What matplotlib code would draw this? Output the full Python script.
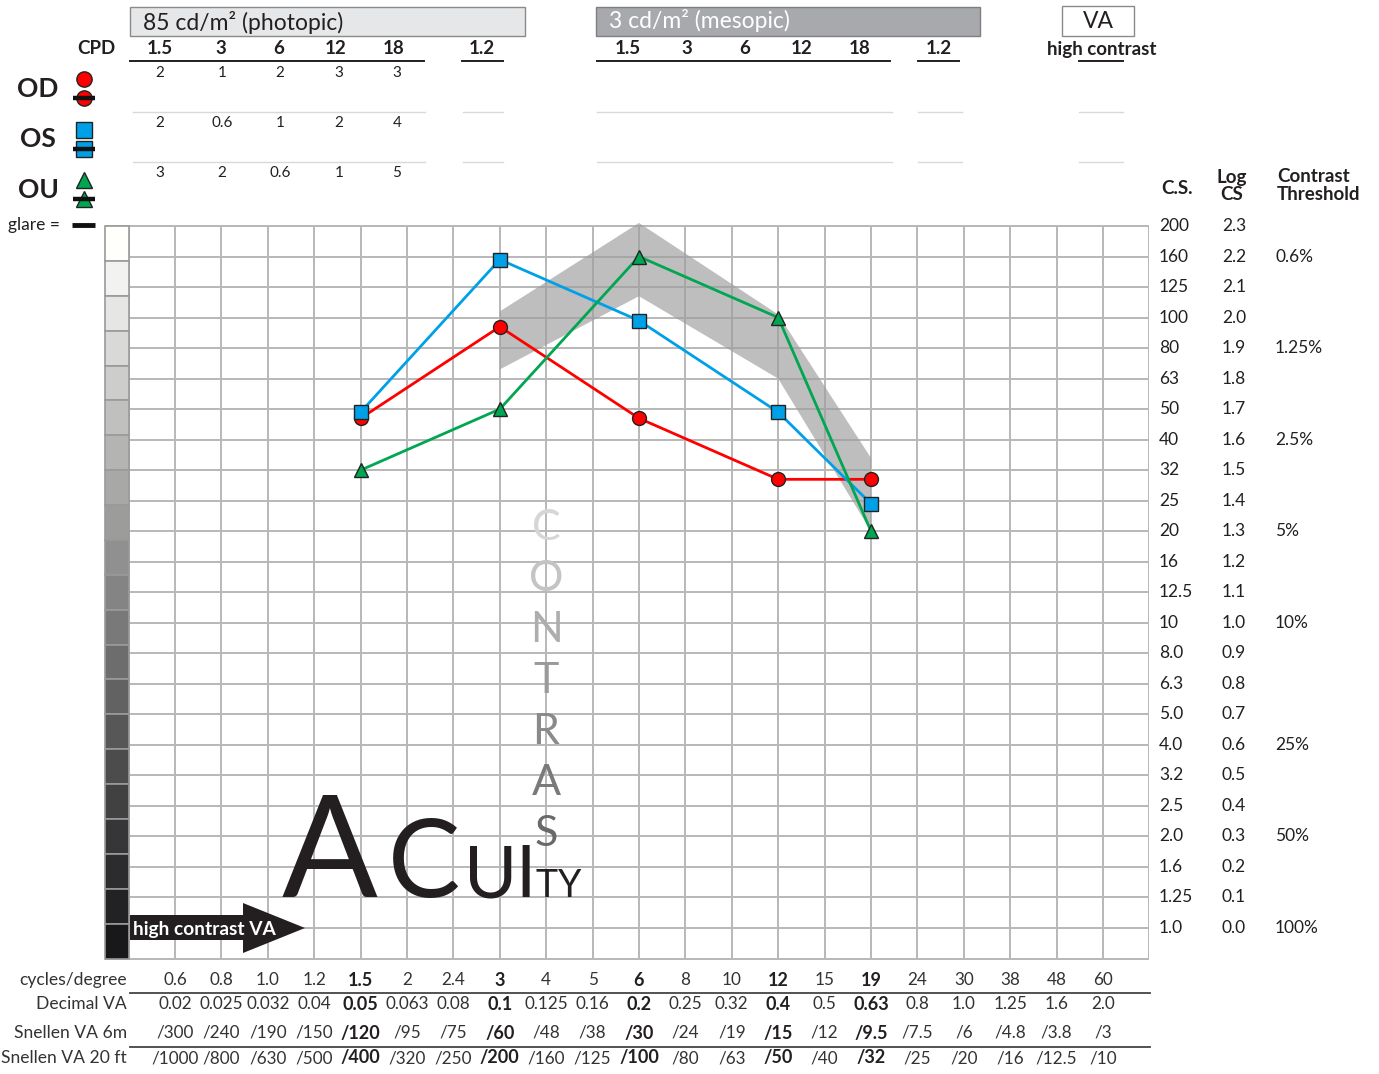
import numpy as np
import matplotlib.pyplot as plt
import matplotlib.transforms as mtransforms
from matplotlib.patches import Rectangle, Polygon

plt.rcParams['font.family'] = ['Lato', 'DejaVu Sans']

W, H = 1379, 1074
INK = '#231f20'

# Spatial frequency columns of the chart (bottom scales)
cpd_labels = ['0.6', '0.8', '1.0', '1.2', '1.5', '2', '2.4', '3', '4', '5', '6',
              '8', '10', '12', '15', '19', '24', '30', '38', '48', '60']
decimal_va = ['0.02', '0.025', '0.032', '0.04', '0.05', '0.063', '0.08', '0.1', '0.125',
              '0.16', '0.2', '0.25', '0.32', '0.4', '0.5', '0.63', '0.8', '1.0', '1.25',
              '1.6', '2.0']
snellen_6m = ['/300', '/240', '/190', '/150', '/120', '/95', '/75', '/60', '/48', '/38',
              '/30', '/24', '/19', '/15', '/12', '/9.5', '/7.5', '/6', '/4.8', '/3.8', '/3']
snellen_20ft = ['/1000', '/800', '/630', '/500', '/400', '/320', '/250', '/200', '/160',
                '/125', '/100', '/80', '/63', '/50', '/40', '/32', '/25', '/20', '/16',
                '/12.5', '/10']
bold_cols = ['1.5', '3', '6', '12', '19']

# Right scales
cs_labels = ['200', '160', '125', '100', '80', '63', '50', '40', '32', '25', '20', '16',
             '12.5', '10', '8.0', '6.3', '5.0', '4.0', '3.2', '2.5', '2.0', '1.6', '1.25', '1.0']
log_cs = [2.3, 2.2, 2.1, 2.0, 1.9, 1.8, 1.7, 1.6, 1.5, 1.4, 1.3, 1.2, 1.1, 1.0,
          0.9, 0.8, 0.7, 0.6, 0.5, 0.4, 0.3, 0.2, 0.1, 0.0]
thr_log = [2.2, 1.9, 1.6, 1.3, 1.0, 0.6, 0.3, 0.0]
thr_labels = ['0.6%', '1.25%', '2.5%', '5%', '10%', '25%', '50%', '100%']

# Measured contrast sensitivity (log CS)
tested_cpd = ['1.5', '3', '6', '12', '19']
od_log = [1.67, 1.97, 1.67, 1.47, 1.47]
os_log = [1.69, 2.19, 1.99, 1.69, 1.39]
ou_log = [1.50, 1.70, 2.20, 2.00, 1.30]

# Normal range band
norm_cpd = ['3', '6', '12', '19']
norm_hi = [2.02, 2.31, 2.01, 1.54]
norm_lo = [1.83, 2.07, 1.80, 1.30]

# Table at the top
head_photopic = ['1.5', '3', '6', '12', '18']
od_row = ['2', '1', '2', '3', '3']
os_row = ['2', '0.6', '1', '2', '4']
ou_row = ['3', '2', '0.6', '1', '5']

RED, BLUE, GREEN = '#ff0000', '#00a0e9', '#00a651'

fig = plt.figure(figsize=(W / 100, H / 100), dpi=100)

# main grid axes: x = column index, y = log CS
px0, px1, pytop, pybot = 105.4, 1149.4, 226.0, 958.5
ax = fig.add_axes([px0 / W, 1 - pybot / H, (px1 - px0) / W, (pybot - pytop) / H], zorder=1)
ax.set_xlim(-1.5, 21)
ax.set_ylim(-0.1, 2.3)
ax.axis('off')

# overlay in pixel coordinates
ax0 = fig.add_axes([0, 0, 1, 1], zorder=3)
ax0.set_xlim(0, W)
ax0.set_ylim(H, 0)
ax0.axis('off')
ax0.patch.set_visible(False)

tr_col = mtransforms.blended_transform_factory(ax.transData, ax0.transData)
tr_row = mtransforms.blended_transform_factory(ax0.transData, ax.transData)

# grid
gc = '#b8b8b8'
ax.vlines(np.arange(-1, 22), -0.1, 2.3, color=gc, lw=1.4, zorder=1)
ax.hlines(np.round(np.arange(-0.1, 2.31, 0.1), 2), -1, 21, color=gc, lw=1.4, zorder=1)
ax.hlines([-0.1, 2.3], -1.5, 21, color=gc, lw=1.4, zorder=1, clip_on=False)

# gray scale bar
ncell = 21
edges = np.linspace(2.3, -0.1, ncell + 1)
shades = np.linspace(1.0, 0.13, ncell) ** 1.15
for k in range(ncell):
    g = shades[k]
    ax.add_patch(Rectangle((-1.5, edges[k + 1]), 0.5, edges[k] - edges[k + 1],
                           fc=(g, g, g * 0.98 + 0.01), ec='#9a9a9a', lw=1.2, zorder=2,
                           clip_on=False))

# normal band
xi = [cpd_labels.index(c) for c in norm_cpd]
band = Polygon(list(zip(xi, norm_hi)) + list(zip(xi[::-1], norm_lo[::-1])),
               closed=True, fc='#9c9c9c', ec='none', alpha=0.65, zorder=3, clip_on=False)
ax.add_patch(band)

# series
tx = [cpd_labels.index(c) for c in tested_cpd]
ax.plot(tx, od_log, '-o', color=RED, lw=2, ms=10, mfc=RED, mec='#222', mew=1, zorder=5)
ax.plot(tx, os_log, '-s', color=BLUE, lw=2, ms=10, mfc=BLUE, mec='#222', mew=1, zorder=6)
ax.plot(tx, ou_log, '-^', color=GREEN, lw=2, ms=10, mfc=GREEN, mec='#222', mew=1, zorder=7)

# CONTRAST / ACUITY lettering
contrast_cols = ['#d6d6d6', '#c4c4c4', '#adadad', '#9a9a9a', '#8a8a8a', '#7a7a7a', '#696969']
for k, (ch, col) in enumerate(zip('CONTRAS', contrast_cols)):
    ax0.text(546, 540 + 51 * k, ch, fontsize=31, color=col,
             ha='center', va='baseline')
for ch, xc, fs in [('A', 330, 102), ('C', 424, 78), ('U', 491, 52), ('I', 525, 52),
                   ('T', 546, 27), ('Y', 570, 27)]:
    ax0.text(xc, 897, ch, fontsize=fs, color=INK, ha='center', va='baseline')

# arrow
arrow = Polygon([(130, 915), (243, 915), (243, 903), (305, 928), (243, 953), (243, 940), (130, 940)],
                closed=True, fc=INK, ec='none')
ax0.add_patch(arrow)
ax0.text(133, 929, 'high contrast VA', color='white', fontsize=13.8, fontweight='bold',
         ha='left', va='center')

# header boxes
ax0.add_patch(Rectangle((130, 7), 395, 29, fc='#e6e7e8', ec='#8a8a8a', lw=1))
ax0.text(143, 22, '85 cd/m² (photopic)', fontsize=16.5, color=INK, va='center')
ax0.add_patch(Rectangle((596, 7), 384, 29, fc='#a7a9ac', ec='#7d7f82', lw=1))
ax0.text(609, 21, '3 cd/m² (mesopic)', fontsize=16.5, color='white', va='center')
ax0.add_patch(Rectangle((1062, 6), 72, 30, fc='white', ec='#8a8a8a', lw=1))
ax0.text(1098, 21, 'VA', fontsize=16.5, color=INK, ha='center', va='center')

# table header row
hb = dict(fontsize=13.5, fontweight='bold', color=INK, ha='center', va='center')
ax0.text(96, 49, 'CPD', **hb)
photo_x = [160, 221, 279, 336, 394]
meso_x = [628, 687, 745, 802, 860]
for lab, x in zip(head_photopic, photo_x):
    ax0.text(x, 49, lab, **hb)
for lab, x in zip(head_photopic, meso_x):
    ax0.text(x, 49, lab, **hb)
ax0.text(482, 49, '1.2', **hb)
ax0.text(939, 49, '1.2', **hb)
ax0.text(1102, 49, 'high contrast', **hb)
for a, b in [(130, 424), (462, 503), (597, 890), (918, 959), (1079, 1123)]:
    ax0.plot([a, b], [61, 61], color=INK, lw=1.4)
for yy in [112, 162]:
    for a, b in [(133, 425), (463, 503), (597, 892), (918, 962), (1079, 1123)]:
        ax0.plot([a, b], [yy, yy], color='#d8d9da', lw=1)

# table values
row_x = [160, 222, 280, 339, 397]
for row, yy in [(od_row, 73), (os_row, 123), (ou_row, 173)]:
    for v, x in zip(row, row_x):
        ax0.text(x, yy, v, fontsize=11, color=INK, ha='center', va='center')

# eye labels and symbols
for lab, yy in [('OD', 89), ('OS', 139), ('OU', 190)]:
    ax0.text(38, yy, lab, fontsize=19, fontweight='bold', color=INK, ha='center', va='center')
for mk, col, y1, y2 in [('o', RED, 79, 98), ('s', BLUE, 130, 149), ('^', GREEN, 180, 199)]:
    ax0.plot(84, y1, mk, ms=11, mfc=col, mec='#222', mew=1)
    ax0.plot(84, y2, mk, ms=11, mfc=col, mec='#222', mew=1)
    ax0.plot([73, 95], [y2, y2], color='#111', lw=3.2, solid_capstyle='butt')
ax0.text(8, 225, 'glare =', fontsize=12.5, color=INK, ha='left', va='center')
ax0.plot([72, 95], [225, 225], color='#111', lw=3.5, solid_capstyle='butt')

# right header
rb = dict(fontsize=13.5, fontweight='bold', color=INK, va='center')
ax0.text(1177, 188, 'C.S.', ha='center', **rb)
ax0.text(1232, 177, 'Log', ha='center', **rb)
ax0.text(1232, 195, 'CS', ha='center', **rb)
ax0.text(1277, 177, 'Contrast', ha='left', **rb)
ax0.text(1277, 195, 'Threshold', ha='left', **rb)

# right scales
for lab, lv in zip(cs_labels, log_cs):
    ax0.text(1159, lv, lab, transform=tr_row, fontsize=12.5, color=INK, ha='left', va='center')
    ax0.text(1222, lv, f'{lv:.1f}', transform=tr_row, fontsize=12.5, color=INK, ha='left', va='center')
for lab, lv in zip(thr_labels, thr_log):
    ax0.text(1275, lv, lab, transform=tr_row, fontsize=12.5, color=INK, ha='left', va='center')

# bottom scales
rows = [('cycles/degree', cpd_labels, 980), ('Decimal VA', decimal_va, 1004),
        ('Snellen VA 6m', snellen_6m, 1033), ('Snellen VA 20 ft', snellen_20ft, 1058)]
for name, vals, yy in rows:
    ax0.text(127, yy, name, fontsize=12.6, color='#333333', ha='right', va='center')
    for i, v in enumerate(vals):
        bold = cpd_labels[i] in bold_cols
        ax0.text(i, yy, v, transform=tr_col, fontsize=13 if bold else 12.3,
                 fontweight='bold' if bold else 'normal',
                 color=INK if bold else '#333333', ha='center', va='center')
for yy in [993, 1047]:
    ax0.plot([130, 1150], [yy, yy], color='#444444', lw=1.3)

fig.savefig('out.png', dpi=100)
